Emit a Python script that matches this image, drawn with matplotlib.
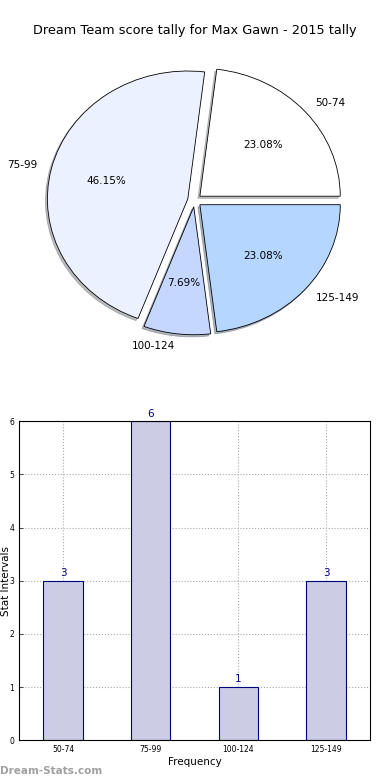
import matplotlib
matplotlib.use('Agg')
import matplotlib.pyplot as plt

labels = ['50-74', '75-99', '100-124', '125-149']
counts = [3, 6, 1, 3]
pie_colors = ['#ffffff', '#ebf1ff', '#c5d7ff', '#b4d6ff']
explode = [0.05, 0.05, 0.05, 0.05]

fig = plt.figure(figsize=(3.9, 7.8), dpi=100)

# pie on top
ax1 = fig.add_axes([0.049, 0.538, 0.9, 0.41])
wedges, texts, autotexts = ax1.pie(counts, labels=labels, colors=pie_colors, explode=explode,
                                   autopct='%.2f%%', shadow={'ox': -0.01, 'oy': -0.012, 'shade': 0.5},
                                   startangle=0, labeldistance=1.1, pctdistance=0.6,
                                   wedgeprops={'edgecolor': 'black', 'linewidth': 0.6},
                                   textprops={'fontsize': 7.5})
ax1.set_aspect('auto')
ax1.set_xlim(-1.25, 1.25)
ax1.set_ylim(-1.25, 1.25)
ax1.set_title('Dream Team score tally for Max Gawn - 2015 tally', fontsize=9.3, y=0.995)

# bar chart below
ax2 = fig.add_axes([0.049, 0.051, 0.9, 0.409])
x = range(len(labels))
bars = ax2.bar(x, counts, width=0.45, color='#ccccE5', edgecolor='#000080', linewidth=0.8, zorder=2)
for xi, c in zip(x, counts):
    ax2.text(xi, c + 0.05, str(c), ha='center', va='bottom', color='#000080', fontsize=7.5)
ax2.set_xlim(-0.5, 3.5)
ax2.set_ylim(0, 6)
ax2.set_xticks(list(x))
ax2.set_xticklabels(labels)
ax2.set_yticks(range(7))
ax2.tick_params(labelsize=5.5, direction='in', length=3, width=0.5)
ax2.grid(True, linestyle=':', color='#aaaaaa', linewidth=0.8, zorder=0)
ax2.set_axisbelow(True)
ax2.set_xlabel('Frequency', fontsize=7.5, labelpad=2)
ax2.set_ylabel('Stat Intervals', fontsize=7.5)
ax2.yaxis.set_label_coords(-0.024, 0.5)

fig.text(0.0, 0.005, 'Dream-Stats.com', color='#a0a0a0', fontsize=7.5, fontweight='bold', ha='left', va='bottom')

fig.savefig('out.png', dpi=100)
